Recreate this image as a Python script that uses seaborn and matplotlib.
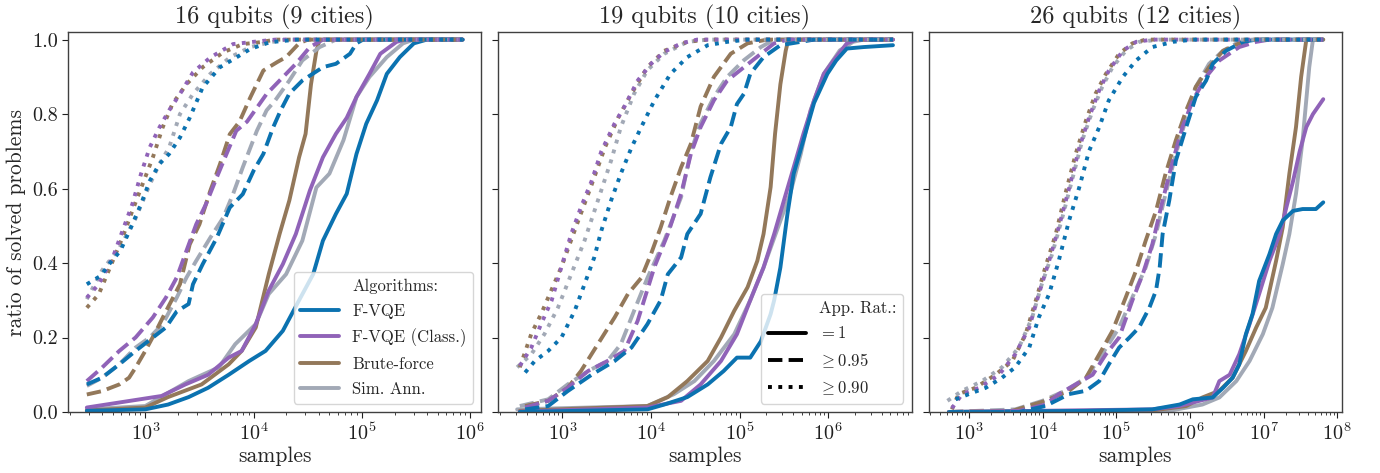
import numpy as np
import matplotlib
matplotlib.use("Agg")
import matplotlib.pyplot as plt
import seaborn as sns
from matplotlib.lines import Line2D

# ---------------- data (x stored as log10(samples), y = ratio of solved problems) ------------
TITLES = ["16 qubits (9 cities)", "19 qubits (10 cities)", "26 qubits (12 cities)"]
ALGOS = ["F-VQE", "F-VQE (Class.)", "Brute-force", "Sim. Ann."]
RATIOS = ["=1", ">=0.95", ">=0.90"]

# ---- 16 qubits ----
q16_fvqe_r100_lg = [2.46, 3.0, 3.21, 3.40, 3.58, 3.77, 3.96, 4.11, 4.27, 4.42, 4.55, 4.64, 4.76, 4.86, 4.95, 5.04, 5.14, 5.23, 5.35, 5.48, 5.60, 5.93]
q16_fvqe_r100_y = [0.003, 0.007, 0.02, 0.04, 0.065, 0.10, 0.137, 0.164, 0.218, 0.30, 0.37, 0.46, 0.532, 0.586, 0.693, 0.774, 0.837, 0.908, 0.953, 0.99, 1.0, 1.0]
q16_class_r100_lg = [2.46, 3.15, 3.37, 3.58, 3.77, 3.89, 4.02, 4.14, 4.27, 4.39, 4.52, 4.64, 4.76, 4.86, 4.95, 5.07, 5.17, 5.32, 5.40, 5.93]
q16_class_r100_y = [0.012, 0.043, 0.074, 0.10, 0.146, 0.164, 0.236, 0.326, 0.397, 0.478, 0.595, 0.684, 0.747, 0.79, 0.846, 0.908, 0.962, 0.994, 1.0, 1.0]
q16_brute_r100_lg = [2.46, 3.0, 3.21, 3.52, 3.77, 3.89, 4.02, 4.14, 4.24, 4.33, 4.42, 4.48, 4.53, 4.58, 4.61, 5.93]
q16_brute_r100_y = [0.004, 0.012, 0.04, 0.074, 0.128, 0.164, 0.227, 0.37, 0.478, 0.568, 0.684, 0.747, 0.88, 0.97, 1.0, 1.0]
q16_sa_r100_lg = [2.46, 3.0, 3.40, 3.68, 3.83, 4.02, 4.14, 4.30, 4.45, 4.58, 4.70, 4.83, 4.95, 5.07, 5.23, 5.38, 5.48, 5.93]
q16_sa_r100_y = [0.007, 0.016, 0.083, 0.12, 0.182, 0.236, 0.317, 0.37, 0.46, 0.603, 0.64, 0.73, 0.846, 0.90, 0.953, 0.99, 1.0, 1.0]

q16_fvqe_r095_lg = [2.46, 2.6, 2.76, 2.91, 3.07, 3.19, 3.29, 3.40, 3.44, 3.53, 3.66, 3.78, 3.9, 4.0, 4.09, 4.18, 4.25, 4.33, 4.45, 4.64, 4.76, 4.89, 4.95, 5.01, 5.93]
q16_fvqe_r095_y = [0.074, 0.092, 0.128, 0.164, 0.20, 0.227, 0.27, 0.29, 0.343, 0.397, 0.468, 0.549, 0.585, 0.648, 0.693, 0.764, 0.81, 0.855, 0.89, 0.926, 0.935, 0.962, 0.99, 1.0, 1.0]
q16_class_r095_lg = [2.46, 2.60, 2.76, 2.91, 3.07, 3.19, 3.29, 3.38, 3.47, 3.56, 3.66, 3.75, 3.84, 3.94, 4.03, 4.12, 4.24, 4.39, 4.52, 4.64, 5.93]
q16_class_r095_y = [0.083, 0.119, 0.164, 0.20, 0.254, 0.307, 0.361, 0.433, 0.504, 0.558, 0.63, 0.693, 0.755, 0.78, 0.817, 0.854, 0.89, 0.935, 0.98, 1.0, 1.0]
q16_brute_r095_lg = [2.46, 2.60, 2.76, 2.85, 2.91, 3.0, 3.10, 3.19, 3.32, 3.41, 3.5, 3.6, 3.69, 3.78, 3.87, 3.97, 4.09, 4.22, 4.30, 4.42, 4.5, 5.93]
q16_brute_r095_y = [0.047, 0.056, 0.074, 0.092, 0.119, 0.164, 0.218, 0.27, 0.343, 0.45, 0.504, 0.594, 0.666, 0.746, 0.78, 0.845, 0.917, 0.94, 0.953, 0.99, 1.0, 1.0]
q16_sa_r095_lg = [2.46, 2.6, 2.76, 2.91, 3.04, 3.16, 3.29, 3.38, 3.47, 3.6, 3.72, 3.81, 3.9, 4.03, 4.12, 4.2, 4.33, 4.45, 4.61, 4.76, 5.93]
q16_sa_r095_y = [0.07, 0.092, 0.128, 0.173, 0.20, 0.236, 0.307, 0.361, 0.406, 0.468, 0.522, 0.585, 0.657, 0.755, 0.81, 0.837, 0.89, 0.944, 0.98, 1.0, 1.0]

q16_fvqe_r090_lg = [2.46, 2.59, 2.665, 2.77, 2.867, 2.96, 3.04, 3.13, 3.22, 3.32, 3.41, 3.53, 3.69, 3.84, 3.97, 4.15, 4.4, 5.93]
q16_fvqe_r090_y = [0.343, 0.366, 0.397, 0.433, 0.495, 0.558, 0.62, 0.666, 0.693, 0.737, 0.79, 0.872, 0.926, 0.952, 0.975, 0.993, 1.0, 1.0]
q16_class_r090_lg = [2.46, 2.57, 2.70, 2.79, 2.88, 2.96, 3.04, 3.13, 3.22, 3.32, 3.44, 3.6, 3.81, 4.03, 4.2, 5.93]
q16_class_r090_y = [0.307, 0.343, 0.415, 0.487, 0.558, 0.639, 0.71, 0.764, 0.81, 0.854, 0.912, 0.952, 0.988, 0.995, 1.0, 1.0]
q16_brute_r090_lg = [2.46, 2.57, 2.70, 2.79, 2.88, 2.975, 3.07, 3.16, 3.25, 3.38, 3.53, 3.72, 3.9, 4.06, 4.2, 5.93]
q16_brute_r090_y = [0.28, 0.316, 0.406, 0.469, 0.54, 0.612, 0.684, 0.764, 0.827, 0.88, 0.926, 0.966, 0.988, 0.993, 1.0, 1.0]
q16_sa_r090_lg = [2.46, 2.60, 2.76, 2.91, 3.04, 3.13, 3.22, 3.32, 3.44, 3.60, 3.78, 3.97, 4.15, 4.3, 5.93]
q16_sa_r090_y = [0.303, 0.38, 0.44, 0.52, 0.61, 0.666, 0.71, 0.80, 0.854, 0.908, 0.952, 0.98, 0.993, 1.0, 1.0]

# ---- 19 qubits ----
q19_fvqe_r100_lg = [2.52, 3.96, 4.15, 4.41, 4.64, 4.82, 4.97, 5.12, 5.24, 5.35, 5.39, 5.46, 5.54, 5.61, 5.72, 5.84, 5.99, 6.09, 6.21, 6.40, 6.73]
q19_fvqe_r100_y = [0.0, 0.007, 0.02, 0.04, 0.074, 0.11, 0.146, 0.146, 0.19, 0.263, 0.30, 0.388, 0.532, 0.64, 0.73, 0.83, 0.908, 0.944, 0.976, 0.98, 0.985]
q19_class_r100_lg = [2.52, 3.96, 4.34, 4.56, 4.79, 4.97, 5.12, 5.27, 5.39, 5.50, 5.61, 5.72, 5.84, 5.95, 6.06, 6.21, 6.32, 6.73]
q19_class_r100_y = [0.001, 0.012, 0.03, 0.074, 0.137, 0.209, 0.30, 0.388, 0.478, 0.568, 0.657, 0.747, 0.837, 0.908, 0.944, 0.99, 1.0, 1.0]
q19_brute_r100_lg = [2.52, 3.96, 4.19, 4.41, 4.64, 4.79, 4.94, 5.09, 5.20, 5.27, 5.35, 5.40, 5.46, 5.52, 5.55, 6.73]
q19_brute_r100_y = [0.003, 0.016, 0.04, 0.083, 0.137, 0.20, 0.272, 0.335, 0.406, 0.478, 0.604, 0.747, 0.88, 0.97, 1.0, 1.0]
q19_sa_r100_lg = [2.49, 3.96, 4.26, 4.49, 4.71, 4.94, 5.12, 5.27, 5.42, 5.57, 5.69, 5.80, 5.95, 6.13, 6.28, 6.40, 6.73]
q19_sa_r100_y = [0.007, 0.016, 0.048, 0.083, 0.137, 0.209, 0.30, 0.388, 0.487, 0.586, 0.693, 0.81, 0.908, 0.971, 0.994, 1.0, 1.0]

q19_fvqe_r095_lg = [2.58, 2.84, 3.06, 3.33, 3.59, 3.78, 3.96, 4.11, 4.19, 4.34, 4.41, 4.56, 4.67, 4.79, 4.90, 4.97, 5.05, 5.12, 5.27, 5.46, 5.69, 5.84, 6.73]
q19_fvqe_r095_y = [0.007, 0.016, 0.056, 0.10, 0.137, 0.173, 0.236, 0.30, 0.37, 0.415, 0.478, 0.532, 0.63, 0.72, 0.765, 0.827, 0.855, 0.908, 0.953, 0.985, 0.994, 1.0, 1.0]
q19_class_r095_lg = [2.58, 2.84, 3.06, 3.29, 3.51, 3.70, 3.85, 4.04, 4.19, 4.34, 4.45, 4.56, 4.71, 4.86, 5.05, 5.24, 5.39, 5.54, 6.73]
q19_class_r095_y = [0.012, 0.03, 0.065, 0.11, 0.137, 0.164, 0.245, 0.39, 0.478, 0.586, 0.693, 0.765, 0.837, 0.89, 0.926, 0.962, 0.99, 1.0, 1.0]
q19_brute_r095_lg = [2.58, 2.84, 3.06, 3.21, 3.40, 3.59, 3.74, 3.89, 4.0, 4.11, 4.22, 4.34, 4.45, 4.56, 4.71, 4.90, 5.09, 5.31, 6.73]
q19_brute_r095_y = [0.016, 0.03, 0.065, 0.11, 0.182, 0.254, 0.317, 0.36, 0.424, 0.496, 0.577, 0.657, 0.72, 0.82, 0.90, 0.962, 0.99, 1.0, 1.0]
q19_sa_r095_lg = [2.52, 2.84, 3.06, 3.29, 3.51, 3.66, 3.81, 3.96, 4.15, 4.34, 4.45, 4.56, 4.71, 4.86, 5.05, 5.24, 5.39, 6.73]
q19_sa_r095_y = [0.016, 0.034, 0.074, 0.11, 0.137, 0.182, 0.272, 0.36, 0.46, 0.577, 0.70, 0.775, 0.846, 0.90, 0.945, 0.98, 1.0, 1.0]

q19_fvqe_r090_lg = [2.58, 2.69, 2.84, 2.99, 3.14, 3.25, 3.36, 3.44, 3.55, 3.66, 3.78, 3.89, 4.04, 4.22, 4.41, 4.64, 4.86, 5.09, 6.73]
q19_fvqe_r090_y = [0.106, 0.137, 0.164, 0.20, 0.272, 0.343, 0.415, 0.487, 0.568, 0.64, 0.71, 0.765, 0.837, 0.908, 0.953, 0.985, 0.994, 1.0, 1.0]
q19_class_r090_lg = [2.52, 2.65, 2.76, 2.88, 2.99, 3.10, 3.21, 3.33, 3.44, 3.59, 3.70, 3.85, 4.0, 4.15, 4.34, 4.52, 6.73]
q19_class_r090_y = [0.124, 0.173, 0.236, 0.30, 0.39, 0.478, 0.55, 0.62, 0.70, 0.775, 0.82, 0.89, 0.935, 0.967, 0.99, 1.0, 1.0]
q19_brute_r090_lg = [2.52, 2.65, 2.76, 2.99, 3.18, 3.33, 3.48, 3.63, 3.78, 3.96, 4.15, 4.41, 4.64, 6.73]
q19_brute_r090_y = [0.12, 0.21, 0.263, 0.39, 0.514, 0.61, 0.71, 0.79, 0.855, 0.926, 0.97, 0.994, 1.0, 1.0]
q19_sa_r090_lg = [2.49, 2.65, 2.80, 2.95, 3.10, 3.25, 3.40, 3.55, 3.66, 3.81, 3.96, 4.15, 4.41, 4.64, 6.73]
q19_sa_r090_y = [0.12, 0.155, 0.21, 0.28, 0.37, 0.46, 0.567, 0.675, 0.765, 0.855, 0.918, 0.962, 0.994, 1.0, 1.0]

# ---- 26 qubits ----
q26_fvqe_r100_lg = [2.73, 4.59, 5.49, 5.86, 6.04, 6.31, 6.45, 6.58, 6.67, 6.76, 6.85, 6.94, 7.08, 7.17, 7.26, 7.40, 7.53, 7.71, 7.81]
q26_fvqe_r100_y = [0.0, 0.003, 0.007, 0.02, 0.034, 0.039, 0.065, 0.092, 0.128, 0.209, 0.263, 0.352, 0.424, 0.478, 0.514, 0.54, 0.545, 0.545, 0.563]
q26_class_r100_lg = [2.73, 5.49, 5.86, 6.13, 6.31, 6.40, 6.54, 6.67, 6.81, 6.94, 7.08, 7.22, 7.31, 7.40, 7.49, 7.58, 7.67, 7.81]
q26_class_r100_y = [0.0, 0.007, 0.016, 0.03, 0.039, 0.083, 0.10, 0.155, 0.236, 0.317, 0.406, 0.478, 0.55, 0.62, 0.70, 0.765, 0.80, 0.84]
q26_brute_r100_lg = [2.73, 5.49, 5.95, 6.17, 6.40, 6.58, 6.76, 6.90, 7.03, 7.17, 7.26, 7.35, 7.44, 7.51, 7.58, 7.81]
q26_brute_r100_y = [0.0, 0.004, 0.016, 0.039, 0.057, 0.092, 0.164, 0.227, 0.28, 0.406, 0.496, 0.64, 0.765, 0.90, 1.0, 1.0]
q26_sa_r100_lg = [2.73, 5.72, 6.17, 6.40, 6.63, 6.81, 6.99, 7.12, 7.26, 7.35, 7.44, 7.53, 7.62, 7.67, 7.81]
q26_sa_r100_y = [0.0, 0.003, 0.02, 0.039, 0.083, 0.137, 0.209, 0.28, 0.397, 0.478, 0.586, 0.73, 0.926, 1.0, 1.0]

q26_fvqe_r095_lg = [2.73, 3.68, 4.04, 4.36, 4.59, 4.77, 4.90, 5.04, 5.18, 5.31, 5.45, 5.54, 5.59, 5.63, 5.72, 5.81, 5.95, 6.08, 6.22, 6.31, 6.49, 6.72, 6.90, 7.81]
q26_fvqe_r095_y = [0.0, 0.0, 0.016, 0.048, 0.057, 0.083, 0.128, 0.173, 0.20, 0.227, 0.28, 0.326, 0.388, 0.478, 0.568, 0.675, 0.765, 0.846, 0.89, 0.935, 0.97, 0.994, 1.0, 1.0]
q26_class_r095_lg = [2.73, 3.68, 4.04, 4.22, 4.45, 4.68, 4.86, 5.04, 5.22, 5.36, 5.49, 5.63, 5.77, 5.90, 6.04, 6.22, 6.40, 6.67, 6.90, 7.08, 7.81]
q26_class_r095_y = [0.0, 0.003, 0.02, 0.048, 0.074, 0.10, 0.155, 0.20, 0.30, 0.37, 0.45, 0.568, 0.675, 0.765, 0.837, 0.90, 0.944, 0.98, 0.994, 1.0, 1.0]
q26_brute_r095_lg = [2.73, 3.59, 4.04, 4.36, 4.59, 4.77, 4.95, 5.13, 5.27, 5.40, 5.54, 5.67, 5.81, 5.95, 6.08, 6.26, 6.45, 6.67, 6.85, 7.81]
q26_brute_r095_y = [0.0, 0.003, 0.03, 0.057, 0.092, 0.155, 0.218, 0.308, 0.38, 0.46, 0.54, 0.64, 0.73, 0.81, 0.873, 0.926, 0.97, 0.99, 1.0, 1.0]
q26_sa_r095_lg = [2.73, 3.63, 4.0, 4.31, 4.59, 4.81, 5.04, 5.22, 5.40, 5.54, 5.67, 5.81, 5.95, 6.08, 6.26, 6.45, 6.67, 6.85, 7.81]
q26_sa_r095_y = [0.0, 0.007, 0.03, 0.057, 0.092, 0.155, 0.227, 0.308, 0.388, 0.478, 0.586, 0.693, 0.79, 0.873, 0.935, 0.97, 0.994, 1.0, 1.0]

q26_fvqe_r090_lg = [2.82, 3.0, 3.23, 3.45, 3.63, 3.82, 3.95, 4.09, 4.22, 4.36, 4.50, 4.63, 4.77, 4.90, 5.09, 5.27, 5.49, 5.77, 6.04, 7.81]
q26_fvqe_r090_y = [0.034, 0.048, 0.065, 0.092, 0.12, 0.173, 0.254, 0.317, 0.406, 0.514, 0.604, 0.70, 0.765, 0.837, 0.90, 0.944, 0.98, 0.994, 1.0, 1.0]
q26_class_r090_lg = [2.77, 2.91, 3.14, 3.41, 3.63, 3.82, 3.95, 4.09, 4.22, 4.36, 4.50, 4.63, 4.77, 4.90, 5.09, 5.27, 5.49, 7.81]
q26_class_r090_y = [0.01, 0.048, 0.065, 0.10, 0.155, 0.227, 0.317, 0.406, 0.496, 0.60, 0.71, 0.79, 0.864, 0.917, 0.97, 0.994, 1.0, 1.0]
q26_brute_r090_lg = [2.77, 2.86, 3.09, 3.36, 3.59, 3.77, 3.91, 4.04, 4.18, 4.31, 4.45, 4.59, 4.72, 4.86, 5.04, 5.22, 5.40, 7.81]
q26_brute_r090_y = [0.007, 0.048, 0.065, 0.10, 0.137, 0.209, 0.30, 0.39, 0.478, 0.586, 0.693, 0.783, 0.855, 0.908, 0.962, 0.99, 1.0, 1.0]
q26_sa_r090_lg = [2.71, 2.91, 3.18, 3.45, 3.68, 3.86, 3.99, 4.13, 4.27, 4.41, 4.54, 4.68, 4.81, 4.95, 5.13, 5.31, 5.58, 7.81]
q26_sa_r090_y = [0.03, 0.057, 0.083, 0.12, 0.173, 0.254, 0.343, 0.424, 0.523, 0.63, 0.73, 0.81, 0.873, 0.926, 0.97, 0.994, 1.0, 1.0]

# ---------------- style ----------------
COLORS = {"F-VQE": "#0b72b0", "F-VQE (Class.)": "#9063b8",
          "Brute-force": "#93785a", "Sim. Ann.": "#a2a9b6"}
LINESTYLES = {"=1": "-", ">=0.95": (0, (3.7, 1.6)), ">=0.90": (0, (1, 1.65))}
RATIO_LABELS = {"=1": r"$=1$", ">=0.95": r"$\geq 0.95$", ">=0.90": r"$\geq 0.90$"}
LW = 2.8

sns.set_style("ticks")
plt.rcParams.update({
    "font.family": "serif",
    "font.serif": ["cmr10", "DejaVu Serif"],
    "mathtext.fontset": "cm",
    "axes.formatter.use_mathtext": True,
    "axes.unicode_minus": False,
    "axes.edgecolor": "#404040",
    "xtick.color": "#202020",
    "ytick.color": "#202020",
})

g = globals()
panels = ["q16", "q19", "q26"]
algo_keys = {"F-VQE": "fvqe", "F-VQE (Class.)": "class", "Brute-force": "brute", "Sim. Ann.": "sa"}
ratio_keys = {"=1": "r100", ">=0.95": "r095", ">=0.90": "r090"}
draw_order = ["Sim. Ann.", "Brute-force", "F-VQE (Class.)", "F-VQE"]

fig, axes = plt.subplots(1, 3, figsize=(13.8, 4.73), dpi=100, sharey=True)
fig.subplots_adjust(left=0.0493, right=0.9725, bottom=0.129, top=0.932, wspace=0.041)

for ax, pk, title in zip(axes, panels, TITLES):
    for rk in RATIOS:
        for ak in draw_order:
            lg = np.array(g[f"{pk}_{algo_keys[ak]}_{ratio_keys[rk]}_lg"])
            yy = np.array(g[f"{pk}_{algo_keys[ak]}_{ratio_keys[rk]}_y"])
            sns.lineplot(x=10 ** lg, y=yy, ax=ax, color=COLORS[ak],
                         linestyle=LINESTYLES[rk], linewidth=LW,
                         estimator=None, sort=False, legend=False)
    ax.set_xscale("log")
    ax.set_ylim(0, 1.02)
    ax.set_title(title, fontsize=17.5, pad=6)
    ax.set_xlabel("samples", fontsize=15.5, labelpad=2)
    ax.tick_params(axis="both", which="major", labelsize=14.5, length=4)
    ax.tick_params(axis="x", which="minor", length=2)
    for sp in ax.spines.values():
        sp.set_visible(True)
        sp.set_linewidth(1.0)

axes[0].set_ylabel("ratio of solved problems", fontsize=15.5, labelpad=4)
axes[0].set_yticks([0.0, 0.2, 0.4, 0.6, 0.8, 1.0])
axes[0].set_yticklabels(["0.0", "0.2", "0.4", "0.6", "0.8", "1.0"])

blank = Line2D([], [], color="none")
h1 = [blank] + [Line2D([], [], color=COLORS[a], lw=LW) for a in ALGOS]
l1 = ["Algorithms:"] + ALGOS
axes[0].legend(h1, l1, loc="lower right", fontsize=12, labelspacing=0.58,
               handlelength=2.3)

h2 = [blank] + [Line2D([], [], color="black", lw=LW, linestyle=LINESTYLES[r]) for r in RATIOS]
l2 = ["App. Rat.:"] + [RATIO_LABELS[r] for r in RATIOS]
axes[1].legend(h2, l2, loc="lower right", fontsize=12, labelspacing=0.58,
               handlelength=2.3)

fig.savefig("out.png", dpi=100)
